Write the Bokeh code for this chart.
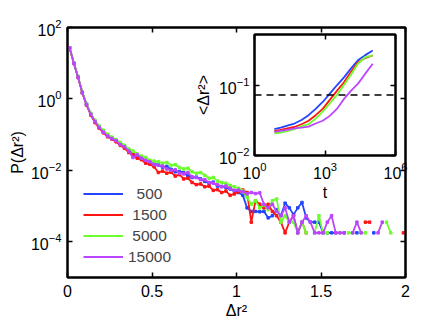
import numpy as np
from bokeh.plotting import figure
from bokeh.layouts import column
from bokeh.models import (FixedTicker, LinearAxis, Legend, LegendItem, Span, Range1d,
                          CustomJSTickFormatter)
from bokeh.embed import file_html
from bokeh.resources import INLINE

# ---------------- data ----------------
series_names = ["\u00a0\u00a0500", "\u00a01500", "\u00a05000", "15000"]
series_colors = ["#2445ff", "#ff1414", "#6cff2c", "#bb45ff"]

# bin centres of the distribution of squared displacement
dr2_bins = np.round(np.arange(0.0125, 2.0, 0.025), 4)

# log10 P(dr^2) (None = empty bin)
log10_p_500 = [
    1.43, 1.00, 0.62, 0.18, -0.15, -0.42, -0.62, -0.79, -0.92, -1.02,
    -1.09, -1.16, -1.24, -1.35, -1.43, -1.55, -1.57, -1.64, -1.70, -1.78,
    -1.82, -1.84, -1.91, -1.89, -1.97, -2.04, -2.03, -2.06, -2.16, -2.20,
    -2.19, -2.24, -2.31, -2.36, -2.33, -2.44, -2.45, -2.48, -2.52, -2.58,
    -2.62, -2.70, -3.05, -3.15, -3.15, -3.16, -3.15, -3.33, -3.27, -3.10,
    -3.27, -2.92, -3.05, -3.24, -3.05, -2.90, -3.33, -3.45, -3.45, -3.45,
    -3.75, -3.75, -3.75, -3.75, None, -3.75, None, None, -3.75, None,
    None, None, -3.75, None, None, None, None, None, None, None]
log10_p_1500 = [
    1.43, 1.00, 0.60, 0.17, -0.17, -0.45, -0.66, -0.82, -0.95, -1.06,
    -1.12, -1.20, -1.30, -1.38, -1.50, -1.56, -1.66, -1.70, -1.80, -1.83,
    -1.90, -2.06, -2.02, -2.08, -2.05, -2.16, -2.12, -2.24, -2.22, -2.34,
    -2.40, -2.38, -2.46, -2.44, -2.56, -2.54, -2.62, -2.58, -2.70, -2.66,
    -2.60, -2.55, -2.62, -3.45, -2.85, -2.95, -3.05, -2.95, -3.15, -3.27,
    -3.45, -3.75, -3.45, -3.27, -3.75, -3.45, -3.75, None, None, None,
    None, None, None, None, None, None, None, None, None, None,
    -3.45, -3.45, None, None, None, None, None, None, None, -3.75]
log10_p_5000 = [
    1.43, 1.01, 0.63, 0.20, -0.13, -0.40, -0.60, -0.76, -0.88, -0.99,
    -1.07, -1.14, -1.22, -1.30, -1.40, -1.46, -1.54, -1.60, -1.64, -1.72,
    -1.74, -1.76, -1.80, -1.78, -1.86, -1.84, -1.92, -1.96, -1.94, -2.04,
    -2.08, -2.06, -2.14, -2.22, -2.20, -2.30, -2.34, -2.36, -2.42, -2.46,
    -2.50, -2.58, -2.75, -2.95, -2.85, -3.05, -2.97, -3.10, -2.85, -2.80,
    -3.45, -3.27, -3.45, -3.45, -3.75, -3.45, -3.75, None, -3.75, -3.27,
    -3.75, -3.75, None, None, -3.75, None, -3.75, -3.75, None, -3.75,
    -3.75, None, None, None, None, -3.45, -3.75, None, None, None]
log10_p_15000 = [
    1.43, 1.00, 0.61, 0.18, -0.16, -0.43, -0.63, -0.80, -0.93, -1.04,
    -1.11, -1.17, -1.28, -1.34, -1.46, -1.64, -1.56, -1.66, -1.72, -1.76,
    -1.84, -1.86, -1.88, -1.96, -2.00, -1.98, -2.08, -2.10, -2.06, -2.18,
    -2.20, -2.26, -2.26, -2.34, -2.36, -2.40, -2.46, -2.44, -2.50, -2.56,
    -2.55, -2.60, -2.65, -2.62, -2.65, -2.63, -2.95, -3.05, -2.95, -3.15,
    -3.27, -3.05, -3.45, -3.27, -3.75, -3.45, -3.27, -3.45, -3.75, -3.75,
    -3.75, -3.45, -3.27, -3.75, -3.75, -3.75, None, -3.75, -3.45, -3.75,
    None, None, None, -3.75, -3.45, None, None, None, None, None]

# inset: mean squared displacement vs time
t_values = [7, 13, 25, 50, 100, 200, 400, 800, 1600, 3200, 6300, 12600, 25000, 50000, 107000]
log10_msd_500 = [-1.62, -1.60, -1.57, -1.54, -1.49, -1.42, -1.33, -1.23, -1.11, -0.99, -0.88, -0.75, -0.63, -0.56, -0.49]
log10_msd_1500 = [-1.65, -1.63, -1.61, -1.59, -1.55, -1.50, -1.42, -1.33, -1.20, -1.07, -0.95, -0.80, -0.66, -0.60, -0.56]
log10_msd_5000 = [-1.68, -1.67, -1.65, -1.62, -1.58, -1.55, -1.47, -1.37, -1.25, -1.13, -0.99, -0.84, -0.68, -0.59, -0.56]
log10_msd_15000 = [-1.66, -1.645, -1.63, -1.61, -1.60, -1.585, -1.54, -1.50, -1.43, -1.33, -1.19, -1.07, -0.97, -0.83, -0.68]
msd_threshold = 0.074

FONT = "Liberation Sans"
FS = "16px"
LEG_FS = "15.5px"


def to_p(vals):
    return np.array([np.nan if v is None else 10.0 ** v for v in vals])


def style_axis(ax, labels=True):
    ax.axis_line_color = "black"
    ax.axis_line_width = 2
    ax.major_tick_in = 5
    ax.major_tick_out = 0
    ax.minor_tick_in = 0
    ax.minor_tick_out = 0
    ax.major_tick_line_color = "black"
    ax.major_tick_line_width = 1.5
    ax.major_label_text_font = FONT
    ax.major_label_text_font_size = FS
    ax.major_label_text_color = "black"
    ax.axis_label_text_font = FONT
    ax.axis_label_text_font_size = FS
    ax.axis_label_text_font_style = "normal"
    ax.axis_label_text_color = "black"
    if not labels:
        ax.formatter = CustomJSTickFormatter(code="return ''")
        ax.major_label_standoff = 0
        ax.major_label_text_font_size = "1px"


# ---------------- main figure ----------------
p = figure(width=430, height=324, output_backend="svg", toolbar_location=None,
           y_axis_type="log", x_range=Range1d(0, 2), y_range=Range1d(1e-5, 1e2),
           min_border_left=67, min_border_right=24, min_border_top=27, min_border_bottom=47)
p.grid.visible = False
p.outline_line_color = "black"
p.outline_line_width = 2
p.background_fill_color = "white"
p.border_fill_color = "white"

x_ticks = [0, 0.5, 1, 1.5, 2]
y_ticks = [1e-4, 1e-2, 1, 1e2]
p.xaxis.ticker = FixedTicker(ticks=x_ticks)
p.xaxis.major_label_overrides = {0: "0", 0.5: "0.5", 1: "1", 1.5: "1.5", 2: "2"}
p.yaxis.ticker = FixedTicker(ticks=y_ticks)
p.xaxis.axis_label = "\u0394r\u00b2"
p.yaxis.axis_label = "P(\u0394r\u00b2)"
style_axis(p.xaxis[0])
style_axis(p.yaxis[0])
p.xaxis.major_label_standoff = 7
p.xaxis.axis_label_standoff = 2
p.yaxis.major_label_standoff = 6
p.yaxis.axis_label_standoff = 2

top_ax = LinearAxis(ticker=FixedTicker(ticks=x_ticks))
style_axis(top_ax, labels=False)
right_ax = LinearAxis(ticker=FixedTicker(ticks=y_ticks))
style_axis(right_ax, labels=False)
p.add_layout(top_ax, "above")
p.add_layout(right_ax, "right")

items = []
for name, col, vals in zip(series_names, series_colors,
                           [log10_p_500, log10_p_1500, log10_p_5000, log10_p_15000]):
    pv = to_p(vals)
    r1 = p.line(dr2_bins, pv, line_color=col, line_width=1.8)
    p.scatter(dr2_bins, pv, marker="square", size=2.5, fill_color=col, line_color=col)
    items.append(LegendItem(label=name, renderers=[r1]))

legend = Legend(items=items, location=(16, 10), padding=0, margin=0, spacing=0,
                glyph_width=40, glyph_height=21, label_height=21, label_standoff=5,
                label_text_font=FONT, label_text_font_size=LEG_FS,
                border_line_alpha=0, background_fill_alpha=0)
p.add_layout(legend, "center")

# ---------------- inset figure ----------------
ins = figure(frame_width=141, frame_height=121, output_backend="svg", toolbar_location=None,
             x_axis_type="log", y_axis_type="log",
             x_range=Range1d(1, 1e6), y_range=Range1d(1e-2, 0.55),
             min_border_left=64, min_border_right=25, min_border_top=20, min_border_bottom=52)
ins.grid.visible = False
ins.outline_line_color = "black"
ins.outline_line_width = 2
ins.background_fill_color = "white"
ins.border_fill_alpha = 0
ins.xaxis.ticker = FixedTicker(ticks=[1, 1e3, 1e6])
ins.yaxis.ticker = FixedTicker(ticks=[1e-2, 1e-1])
ins.xaxis.axis_label = "t"
ins.yaxis.axis_label = "<\u0394r\u00b2>"
style_axis(ins.xaxis[0])
style_axis(ins.yaxis[0])
ins.xaxis.major_label_standoff = 6
ins.xaxis.axis_label_standoff = 2
ins.yaxis.major_label_standoff = 5
ins.yaxis.axis_label_standoff = 4
ins_top = LinearAxis(ticker=FixedTicker(ticks=[1, 1e3, 1e6]))
style_axis(ins_top, labels=False)
ins_right = LinearAxis(ticker=FixedTicker(ticks=[1e-2, 1e-1]))
style_axis(ins_right, labels=False)
ins.add_layout(ins_top, "above")
ins.add_layout(ins_right, "right")

for col, vals in zip(series_colors, [log10_msd_500, log10_msd_1500, log10_msd_5000, log10_msd_15000]):
    ins.line(t_values, to_p(vals), line_color=col, line_width=1.8)

ins.add_layout(Span(location=msd_threshold, dimension="width", line_color="black",
                    line_width=1.5, line_dash="7 5"))

ins.styles = {"position": "absolute", "left": "187px", "top": "14px", "z-index": "2"}

layout = column(p, ins, styles={"position": "relative"})

open("out.html", "w").write(file_html(layout, INLINE))
